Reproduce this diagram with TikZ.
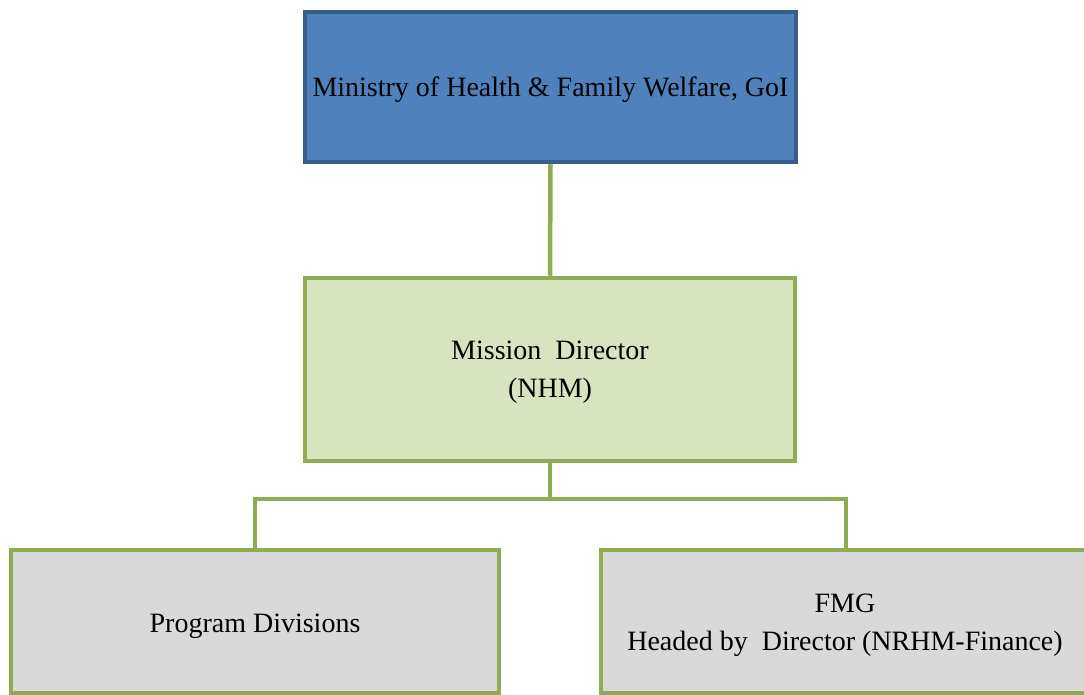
\documentclass[tikz,border=0pt]{standalone}
\usepackage{fontspec}
\setmainfont{Liberation Serif}
\definecolor{topfill}{HTML}{4F81BD}
\definecolor{topdraw}{HTML}{385D8A}
\definecolor{gfill}{HTML}{D7E4BD}
\definecolor{gdraw}{HTML}{8FAC53}
\definecolor{grayfill}{HTML}{D9D9D9}
\begin{document}
\begin{tikzpicture}[x=1pt,y=-1pt,
  box/.style={rectangle, line width=4.5pt, inner sep=0pt},
  lbl/.style={align=center, inner sep=0pt, font=\fontsize{28}{38}\selectfont},
  topbox/.style={box, fill=topfill, draw=topdraw},
  midbox/.style={box, fill=gfill, draw=gdraw},
  lowbox/.style={box, fill=grayfill, draw=gdraw},
  link/.style={draw=gdraw, line width=4.5pt}]
\useasboundingbox (0,0) rectangle (1084,695);
\node[topbox, minimum width=491pt, minimum height=150pt] (min) at (550.5,87) {};
\node[midbox, minimum width=490pt, minimum height=183pt] (md) at (550,369.5) {};
\node[lowbox, minimum width=488pt, minimum height=143pt] (pd) at (255,621.5) {};
\node[lowbox, minimum width=488pt, minimum height=143pt] (fmg) at (845,621.5) {};
\node[lbl] (minT) at ([yshift=-3pt]min.center) {Ministry of Health \& Family Welfare, GoI};
\node[lbl] (mdT) at ([yshift=-3pt]md.center) {Mission\ \ Director\\(NHM)};
\node[lbl] (pdT) at ([yshift=-5pt]pd.center) {Program Divisions};
\node[lbl] (fmgT) at ([yshift=-4pt]fmg.center) {FMG\\Headed by\ \ Director (NRHM-Finance)};
\coordinate (j) at (550,499);
\draw[link] (min.south) -- (md.north);
\draw[link] (md.south) -- (j);
\draw[link] (pd.north -| 255,0) |- (j) -| (fmg.north -| 846,0);
\end{tikzpicture}
\end{document}
